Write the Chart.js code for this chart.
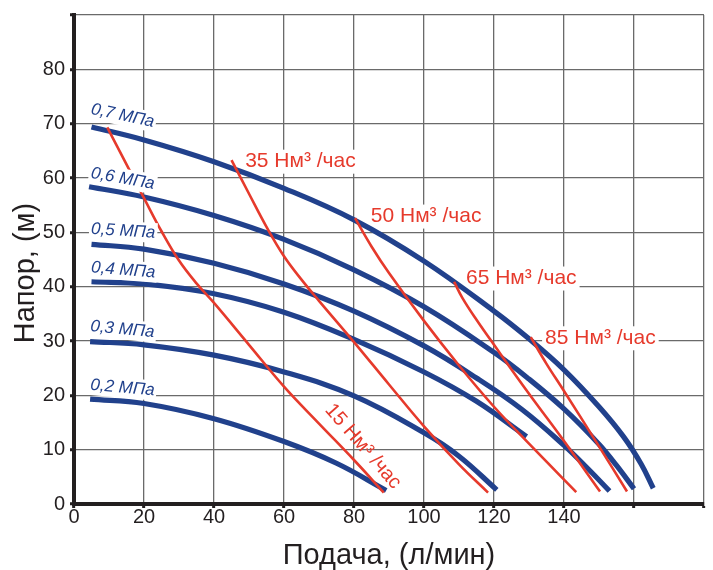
<!DOCTYPE html>
<html>
<head>
<meta charset="utf-8">
<script src="https://cdn.jsdelivr.net/npm/chart.js@4.4.0/dist/chart.umd.min.js"></script>
<style>
html,body{margin:0;padding:0;background:#fff;}
canvas{display:block;}
</style>
</head>
<body>
<canvas id="c" width="713" height="570"></canvas>
<script>
// ---------- data ----------
// Pressure curves: flow (l/min) and head (m)
const q07 = [5, 20, 40, 60, 80, 100, 120, 130, 140, 150, 157, 162, 165.5];
const h07 = [69.4, 67.0, 63.0, 58.1, 52.3, 44.7, 35.5, 30.4, 24.7, 17.9, 12.4, 7.4, 2.9];
const q06 = [4.3, 20, 40, 60, 80, 100, 120, 130, 140, 150, 155, 160];
const h06 = [58.4, 56.5, 53.1, 48.7, 43.1, 36.3, 27.9, 23.0, 17.5, 11.0, 7.1, 2.8];
const q05 = [5, 20, 40, 60, 80, 100, 115, 128, 140, 147, 153];
const h05 = [47.8, 46.9, 44.3, 40.5, 35.5, 29.1, 23.2, 17.4, 10.8, 6.4, 2.4];
const q04 = [5, 20, 40, 60, 80, 100, 115, 129.3];
const h04 = [40.9, 40.5, 38.7, 35.3, 30.3, 24.3, 18.9, 12.4];
const q03 = [4.6, 20, 40, 60, 80, 100, 110, 120.8];
const h03 = [29.9, 29.3, 27.4, 24.3, 19.9, 13.1, 8.8, 2.6];
const q02 = [4.6, 20, 40, 60, 75, 89.2];
const h02 = [19.3, 18.5, 15.7, 11.5, 7.5, 2.5];

// Air consumption lines
const q15 = [9.5, 15, 20, 25, 30, 35, 40, 50, 60, 70, 80, 88.5];
const h15 = [69.3, 62.5, 56.3, 50.2, 44.8, 40.6, 37.0, 29.3, 21.6, 14.8, 8.1, 2.1];
const q35 = [45, 50, 55, 60, 65, 70, 80, 90, 100, 110, 118.3];
const h35 = [63.3, 57.1, 51.0, 45.6, 41.3, 37.4, 29.8, 22.0, 14.3, 7.3, 2.1];
const q50 = [80.3, 85, 90, 100, 110, 120, 130, 143.5];
const h50 = [52.6, 47.4, 42.5, 33.7, 25.5, 17.9, 11.1, 2.2];
const q65 = [108.6, 111, 115, 120, 130, 140, 150.3];
const h65 = [40.9, 37.9, 33.9, 29.3, 20.3, 11.6, 2.3];
const q85 = [130.5, 135, 140, 150, 158];
const h85 = [30.7, 25.8, 20.8, 10.6, 2.3];

const pressureLabels = ['0,7 МПа', '0,6 МПа', '0,5 МПа', '0,4 МПа', '0,3 МПа', '0,2 МПа'];
const airLabels = ['15 Нм³ /час', '35 Нм³ /час', '50 Нм³ /час', '65 Нм³ /час', '85 Нм³ /час'];
const xTickLabels = ['0', '20', '40', '60', '80', '100', '120', '140'];
const yTickLabels = ['0', '10', '20', '30', '40', '50', '60', '70', '80'];
const xTitle = 'Подача, (л/мин)';
const yTitle = 'Напор, (м)';

// ---------- styling ----------
const BLUE = '#21418c';
const RED = '#e63a2c';
const INK = '#231f20';
const GRID = '#6a6a6a';
const FAMILY = '"Liberation Sans", Arial, sans-serif';

const zip = (qs, hs) => qs.map((q, i) => ({x: q, y: hs[i]}));

const pressureSeries = [[q07,h07],[q06,h06],[q05,h05],[q04,h04],[q03,h03],[q02,h02]];
const airSeries = [[q15,h15],[q35,h35],[q50,h50],[q65,h65],[q85,h85]];

const datasets = [];
airSeries.forEach((s, i) => datasets.push({
  label: airLabels[i], data: zip(s[0], s[1]),
  borderColor: RED, borderWidth: 2.6, pointRadius: 0,
  tension: 0.4, fill: false, order: 0
}));
pressureSeries.forEach((s, i) => datasets.push({
  label: pressureLabels[i], data: zip(s[0], s[1]),
  borderColor: BLUE, borderWidth: 5.2, pointRadius: 0,
  tension: 0.4, fill: false, order: 1
}));

// label anchors (data units): left-middle of the text, rotation in degrees
// 'under' = white box painted beneath the curves (only masks the grid)
const blueFont = 'italic 17px ' + FAMILY;
const redFont = '21px ' + FAMILY;
const labelSpecs = [
  {text: pressureLabels[0], q: 4.9, h: 72.7, rot: 12, color: BLUE, font: blueFont, padX: 2, halfH: 10, under: false},
  {text: pressureLabels[1], q: 4.9, h: 60.9, rot: 10, color: BLUE, font: blueFont, padX: 2, halfH: 10, under: false},
  {text: pressureLabels[2], q: 4.9, h: 50.6, rot: 3.5, color: BLUE, font: blueFont, padX: 2, halfH: 10, under: false},
  {text: pressureLabels[3], q: 4.9, h: 43.5, rot: 4.5, color: BLUE, font: blueFont, padX: 2, halfH: 10, under: false},
  {text: pressureLabels[4], q: 4.7, h: 32.7, rot: 5.5, color: BLUE, font: blueFont, padX: 2, halfH: 10, under: false},
  {text: pressureLabels[5], q: 4.7, h: 21.9, rot: 5, color: BLUE, font: blueFont, padX: 2, halfH: 10, under: false},
  {text: airLabels[0], q: 72.7, h: 17.9, rot: 49, color: RED, font: '20px ' + FAMILY, padX: 0, halfH: 0, under: true},
  {text: airLabels[1], q: 48.9, h: 63.0, rot: 0, color: RED, font: redFont, padX: 3, halfH: 12, under: true},
  {text: airLabels[2], q: 84.8, h: 52.9, rot: 0, color: RED, font: redFont, padX: 3, halfH: 12, under: true},
  {text: airLabels[3], q: 112.0, h: 41.5, rot: 0, color: RED, font: redFont, padX: 3, halfH: 12, under: true},
  {text: airLabels[4], q: 134.6, h: 30.5, rot: 0, color: RED, font: redFont, padX: 3, halfH: 12, under: true}
];

function paintLabel(chart, s, box, text) {
  const {ctx} = chart;
  const px = chart.scales.x.getPixelForValue(s.q);
  const py = chart.scales.y.getPixelForValue(s.h);
  ctx.save();
  ctx.translate(px, py);
  ctx.rotate(s.rot * Math.PI / 180);
  ctx.font = s.font;
  ctx.textAlign = 'left';
  ctx.textBaseline = 'middle';
  const w = ctx.measureText(s.text).width;
  if (box && s.halfH > 0) {
    ctx.fillStyle = '#fff';
    ctx.fillRect(-s.padX, -s.halfH, w + 2 * s.padX, 2 * s.halfH);
  }
  if (text) {
    ctx.fillStyle = s.color;
    ctx.fillText(s.text, 0, 0);
  }
  ctx.restore();
}

const labelPlugin = {
  id: 'curveLabels',
  beforeDatasetsDraw(chart) {
    labelSpecs.filter(s => s.under).forEach(s => paintLabel(chart, s, true, false));
  },
  afterDatasetsDraw(chart) {
    labelSpecs.forEach(s => paintLabel(chart, s, !s.under, true));
  }
};

const titlePlugin = {
  id: 'axisTitles',
  afterDraw(chart) {
    const {ctx, chartArea} = chart;
    ctx.save();
    ctx.fillStyle = INK;
    ctx.font = '29px ' + FAMILY;
    ctx.textAlign = 'center';
    ctx.textBaseline = 'middle';
    ctx.fillText(xTitle, (chartArea.left + chartArea.right) / 2, chartArea.bottom + 52);
    ctx.translate(26, chartArea.top + 258);
    ctx.rotate(-Math.PI / 2);
    ctx.fillText(yTitle, 0, 0);
    ctx.restore();
  }
};

new Chart(document.getElementById('c'), {
  type: 'line',
  data: {datasets},
  plugins: [labelPlugin, titlePlugin],
  options: {
    responsive: false,
    animation: false,
    devicePixelRatio: 1,
    layout: {padding: {left: 0, right: 9, top: 14, bottom: 0}},
    plugins: {legend: {display: false}, tooltip: {enabled: false}},
    scales: {
      x: {
        type: 'linear', min: 0, max: 180,
        afterFit: s => { s.height = 66; },
        ticks: {
          stepSize: 20, padding: -1, color: INK,
          font: {family: FAMILY, size: 20, lineHeight: 1},
          maxRotation: 0, autoSkip: false,
          callback: v => (xTickLabels.includes(String(v)) ? String(v) : '')
        },
        grid: {color: GRID, lineWidth: 1.3, tickColor: INK, tickWidth: 3, tickLength: 4},
        border: {color: INK, width: 4}
      },
      y: {
        type: 'linear', min: 0, max: 90,
        afterFit: s => { s.width = 74; },
        ticks: {
          stepSize: 10, padding: 5, color: INK,
          font: {family: FAMILY, size: 20, lineHeight: 1},
          callback: v => (yTickLabels.includes(String(v)) ? String(v) : '')
        },
        grid: {color: GRID, lineWidth: 1.3, tickColor: INK, tickWidth: 3, tickLength: 4},
        border: {color: INK, width: 4}
      }
    }
  }
});
</script>
</body>
</html>
